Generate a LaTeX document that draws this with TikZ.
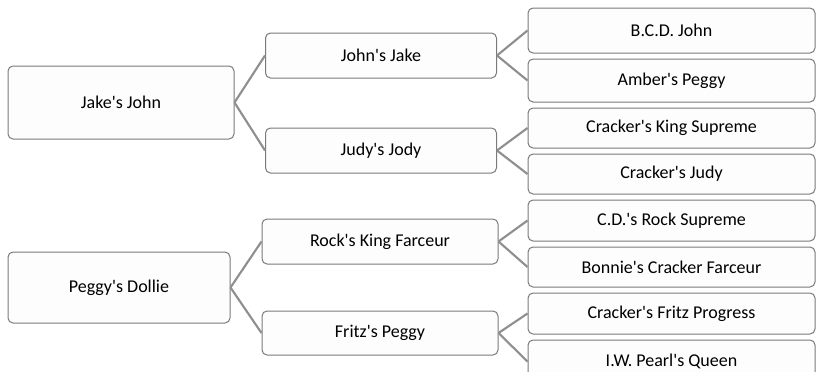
\documentclass[tikz,border=0pt]{standalone}
\usepackage{fontspec}
\setmainfont{Carlito}[Ligatures=TeXOff]
\usetikzlibrary{positioning}
\definecolor{boxline}{HTML}{7A7A7A}
\definecolor{boxfill}{HTML}{FDFDFD}
\definecolor{linkline}{HTML}{8F8F8F}
\tikzset{
  box/.style={draw=boxline, fill=boxfill, rounded corners=3.75pt, line width=0.75pt, inner sep=0pt, text=black},
  sz/.style 2 args={minimum width=0.75*#1pt, minimum height=0.75*#2pt},
  link/.style={draw=linkline, line width=1.6pt}
}
\begin{document}
\begin{tikzpicture}[x=0.75pt, y=-0.75pt, node distance=3.75pt, font=\fontsize{13.5}{16}\selectfont]
\useasboundingbox (0,0) rectangle (816,371);
% first sire line
\path node[box, sz={226}{73}] (jj) at (121,102.5) {Jake's John};
\path node[box, sz={231}{45}] (jnj) at (381,55.5) {John's Jake};
\path node[box, sz={231}{45}] (jdj) at (381,150.5) {Judy's Jody};
\path node[box, sz={287}{45}] (bcd) at (671.5,30.5) {B.C.D. John};
\path node[box, sz={287}{43}, below =of bcd] (amb) {Amber's Peggy};
\path node[box, sz={287}{40}, below =of amb] (cks) {Cracker's King Supreme};
\path node[box, sz={287}{40}, below =of cks] (cj) {Cracker's Judy};
% second sire line
\path node[box, sz={222}{71}] (pd) at (119,287.5) {Peggy's Dollie};
\path node[box, sz={236}{45}] (rkf) at (380,241.5) {Rock's King Farceur};
\path node[box, sz={236}{44}] (fp) at (380,333) {Fritz's Peggy};
\path node[box, sz={287}{41}, below =of cj] (cdr) {C.D.'s Rock Supreme};
\path node[box, sz={287}{40}, below =of cdr] (bcf) {Bonnie's Cracker Farceur};
\path node[box, sz={287}{41}, below =of bcf] (cfp) {Cracker's Fritz Progress};
\path node[box, sz={287}{43}, below =of cfp] (iwp) {I.W. Pearl's Queen};
% links
\path[link] (jj.east) edge (jnj.west) edge (jdj.west);
\path[link] (jnj.east) edge (bcd.west) edge (amb.west);
\path[link] (jdj.east) edge (cks.west) edge (cj.west);
\path[link] (pd.east) edge (rkf.west) edge (fp.west);
\path[link] (rkf.east) edge (cdr.west) edge (bcf.west);
\path[link] (fp.east) edge (cfp.west) edge (iwp.west);
\end{tikzpicture}
\end{document}
